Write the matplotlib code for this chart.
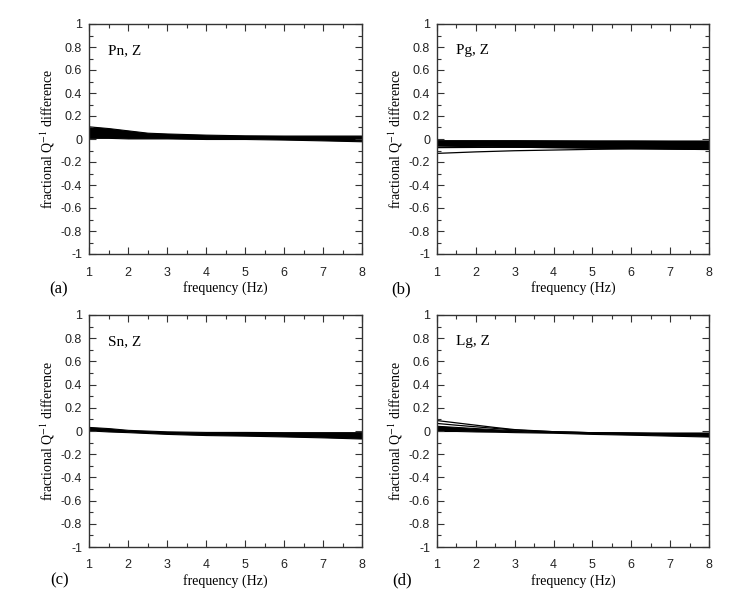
import matplotlib
matplotlib.use('Agg')
import matplotlib.pyplot as plt
from matplotlib.ticker import MultipleLocator, FuncFormatter

# ---- data (band envelopes + a few stray curves) ----
pn_freq = [1, 1.5, 2, 2.5, 3, 4, 5, 6, 7, 8]
pn_upper = [0.11, 0.095, 0.075, 0.055, 0.048, 0.038, 0.032, 0.03, 0.03, 0.03]
pn_lower = [0.01, 0.01, 0.005, 0.005, 0.005, 0.0, 0.0, -0.005, -0.012, -0.02]

pg_freq = [1, 2, 3, 4, 5, 6, 7, 8]
pg_upper = [-0.01, -0.01, -0.01, -0.011, -0.012, -0.012, -0.013, -0.013]
pg_lower = [-0.058, -0.062, -0.067, -0.072, -0.076, -0.08, -0.084, -0.088]
pg_line1 = [-0.075, -0.073, -0.072, -0.074, -0.077, -0.08, -0.084, -0.088]
pg_line2 = [-0.125, -0.112, -0.102, -0.096, -0.09, -0.086, -0.086, -0.088]

sn_freq = [1, 1.5, 2, 3, 4, 5, 6, 7, 8]
sn_upper = [0.035, 0.025, 0.01, -0.003, -0.008, -0.008, -0.01, -0.01, -0.01]
sn_lower = [0.005, -0.004, -0.01, -0.025, -0.035, -0.04, -0.047, -0.055, -0.065]

lg_freq = [1, 1.5, 2, 2.5, 3, 4, 5, 6, 7, 8]
lg_upper = [0.045, 0.035, 0.025, 0.015, 0.006, -0.005, -0.01, -0.012, -0.013, -0.013]
lg_lower = [0.0, 0.0, -0.004, -0.006, -0.01, -0.015, -0.025, -0.032, -0.04, -0.048]
lg_line1 = [0.09, 0.07, 0.05, 0.03, 0.012, -0.006, -0.015, -0.02, -0.025, -0.03]
lg_line2 = [0.065, 0.05, 0.036, 0.022, 0.008, -0.006, -0.015, -0.02, -0.025, -0.03]

panel_names = ['Pn, Z', 'Pg, Z', 'Sn, Z', 'Lg, Z']
panel_tags = ['(a)', '(b)', '(c)', '(d)']

serif = ['Liberation Serif', 'DejaVu Serif']
sans = ['Liberation Sans', 'DejaVu Sans']


def style_axes(ax, name):
    ax.set_xlim(1, 8)
    ax.set_ylim(-1, 1)
    ax.xaxis.set_major_locator(MultipleLocator(1))
    ax.xaxis.set_minor_locator(MultipleLocator(0.5))
    ax.yaxis.set_major_locator(MultipleLocator(0.2))
    ax.yaxis.set_minor_locator(MultipleLocator(0.1))
    ax.yaxis.set_major_formatter(FuncFormatter(lambda v, p: '%g' % round(v, 1)))
    ax.tick_params(which='both', direction='in', top=True, right=True,
                   color='#333333', width=0.8)
    ax.tick_params(which='major', length=5)
    ax.tick_params(which='minor', length=3)
    ax.tick_params(axis='x', pad=9)
    ax.tick_params(axis='y', pad=5)
    for lab in ax.get_xticklabels() + ax.get_yticklabels():
        lab.set_family(sans)
        lab.set_fontsize(9)
        lab.set_color('#222222')
    for sp in ax.spines.values():
        sp.set_linewidth(1.0)
        sp.set_color('#333333')
    ax.set_xlabel('frequency (Hz)', family=serif, fontsize=10, labelpad=2)
    ax.set_ylabel(r'fractional Q$^{-1}$ difference', family=serif, fontsize=10, labelpad=3)
    ax.text(0.07, 0.885, name, transform=ax.transAxes, family=serif,
            fontsize=11, va='center', ha='left')


fig = plt.figure(figsize=(7.49, 5.9), dpi=100)
plt.rcParams['mathtext.fontset'] = 'stix'

rects = [
    [89 / 749, 1 - 254 / 590, 273 / 749, 230 / 590],
    [437 / 749, 1 - 254 / 590, 272 / 749, 230 / 590],
    [89 / 749, 1 - 547 / 590, 273 / 749, 232 / 590],
    [437 / 749, 1 - 547 / 590, 272 / 749, 232 / 590],
]
axes = [fig.add_axes(r) for r in rects]

# (a) Pn
ax = axes[0]
ax.fill_between(pn_freq, pn_lower, pn_upper, color='black', lw=0.8)

# (b) Pg
ax = axes[1]
ax.fill_between(pg_freq, pg_lower, pg_upper, color='black', lw=0.8)
ax.plot(pg_freq, pg_line1, color='black', lw=0.9)
ax.plot(pg_freq, pg_line2, color='black', lw=0.9)

# (c) Sn
ax = axes[2]
ax.fill_between(sn_freq, sn_lower, sn_upper, color='black', lw=0.8)

# (d) Lg
ax = axes[3]
ax.fill_between(lg_freq, lg_lower, lg_upper, color='black', lw=0.8)
ax.plot(lg_freq, lg_line1, color='black', lw=0.9)
ax.plot(lg_freq, lg_line2, color='black', lw=0.9)

for ax, name in zip(axes, panel_names):
    style_axes(ax, name)

tag_pos = [(59, 289), (401, 289), (60, 580), (402, 580)]
for (px, py), tag in zip(tag_pos, panel_tags):
    fig.text(px / 749, 1 - py / 590, tag, family=serif, fontsize=12,
             ha='center', va='center')

fig.savefig('out.png', dpi=100)
